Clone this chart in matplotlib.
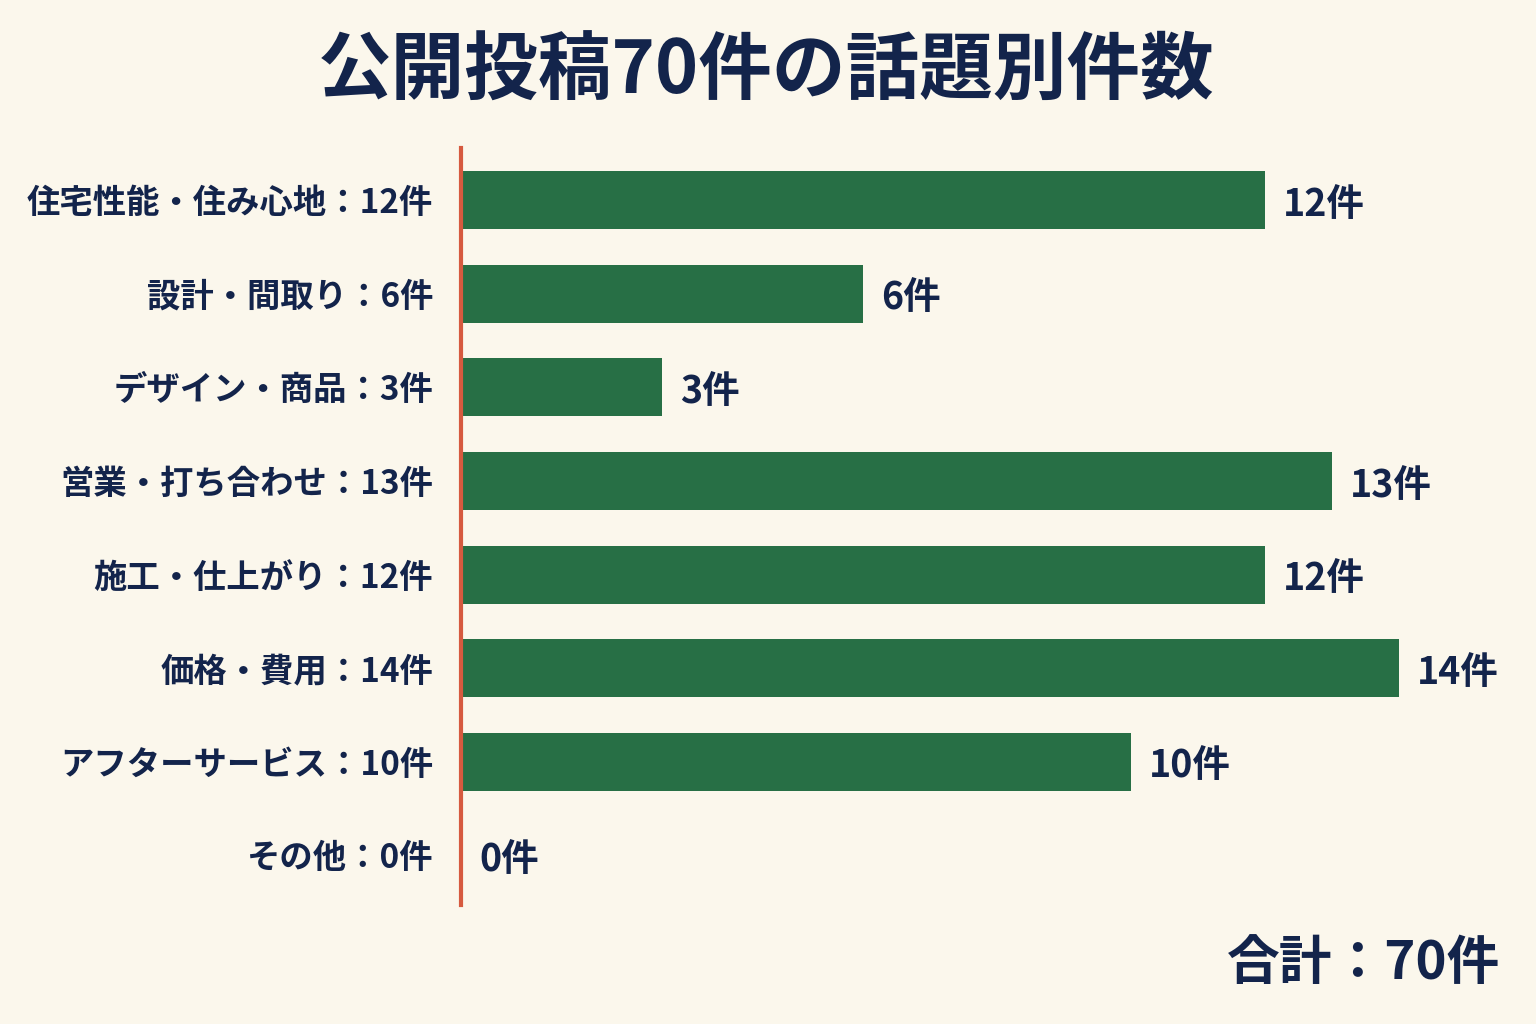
import matplotlib
matplotlib.use("Agg")
import matplotlib.pyplot as plt

plt.rcParams["font.family"] = ["Noto Sans CJK JP", "DejaVu Sans"]

# data
topics = [
    "住宅性能・住み心地",
    "設計・間取り",
    "デザイン・商品",
    "営業・打ち合わせ",
    "施工・仕上がり",
    "価格・費用",
    "アフターサービス",
    "その他",
]
counts = [12, 6, 3, 13, 12, 14, 10, 0]
title = "公開投稿70件の話題別件数"
total_label = "合計：70件"

bg = "#FBF7EC"
green = "#276F45"
navy = "#13244B"
red = "#D65A3F"

fig = plt.figure(figsize=(15.36, 10.24), dpi=100, facecolor=bg)
ax = fig.add_axes([461 / 1536, 1 - 905 / 1024, 1072 / 1536, 757 / 1024])
ax.set_facecolor(bg)

y = list(range(len(topics)))
ax.barh(y, counts, height=0.62, color=green, zorder=2)

ax.set_xlim(0, 16)
ax.set_ylim(7.53, -0.556)

ax.set_yticks(y)
ax.set_yticklabels([f"{t}：{c}件" for t, c in zip(topics, counts)],
                   fontsize=24, fontweight="bold", color=navy)
ax.tick_params(axis="y", length=0, pad=20)
ax.set_xticks([])

for s in ["top", "right", "bottom"]:
    ax.spines[s].set_visible(False)
ax.spines["left"].set_color(red)
ax.spines["left"].set_linewidth(3)
ax.spines["left"].set_zorder(3)

for yi, c in zip(y, counts):
    ax.annotate(f"{c}件", xy=(c, yi), xytext=(13, -3), textcoords="offset points",
                ha="left", va="center", fontsize=27, fontweight="bold", color=navy)

fig.text(766 / 1536, 1 - 72 / 1024, title, ha="center", va="center",
         fontsize=53, fontweight="bold", color=navy)
fig.text(1500 / 1536, 1 - 963 / 1024, total_label, ha="right", va="center",
         fontsize=38, fontweight="bold", color=navy)

fig.savefig("out.png", dpi=100, facecolor=bg)
